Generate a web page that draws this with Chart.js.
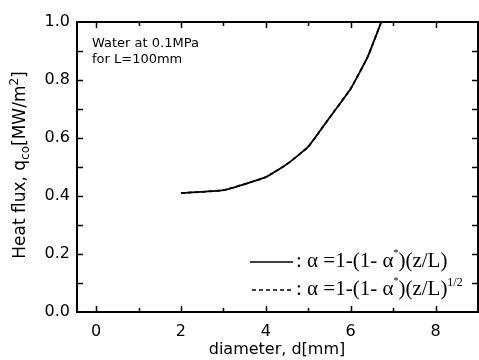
<!DOCTYPE html>
<html>
<head>
<meta charset="utf-8">
<script src="https://cdn.jsdelivr.net/npm/chart.js@4.4.1/dist/chart.umd.min.js"></script>
<style>
  html, body { margin: 0; padding: 0; background: #fff; }
  #wrap { width: 479px; height: 360px; position: relative; }
</style>
</head>
<body>
<div id="wrap"><canvas id="chart"></canvas></div>
<script>
// diameter d [mm] and heat flux q_co [MW/m2]
var diameters = [2, 3, 4, 4.5, 5, 5.5, 6, 6.4, 6.72];
var heatFlux = [0.41, 0.42, 0.465, 0.51, 0.57, 0.67, 0.77, 0.88, 1.0];
// the square-root profile lies on the same curve in the figure
var heatFluxSqrt = [0.41, 0.42, 0.465, 0.51, 0.57, 0.67, 0.77, 0.88, 1.0];
var xTicks = [0, 2, 4, 6, 8];
var yTicks = [0, 0.2, 0.4, 0.6, 0.8, 1.0];
var noteLines = ['Water at 0.1MPa', 'for L=100mm'];

var sans = '"DejaVu Sans", Arial, sans-serif';
var serif = '"Liberation Serif", "Times New Roman", serif';

var framePlugin = {
    id: 'frame',
    afterDraw: function(chart) {
        var ctx = chart.ctx;
        var a = chart.chartArea;
        var xs = chart.scales.x, ys = chart.scales.y;
        ctx.save();
        ctx.strokeStyle = '#000';
        ctx.lineWidth = 2;
        ctx.strokeRect(a.left, a.top, a.right - a.left, a.bottom - a.top);

        // inward ticks
        ctx.lineWidth = 1.5;
        ctx.beginPath();
        for (var v = 0; v <= 9; v++) {
            var px = Math.round(xs.getPixelForValue(v)) + 0.5;
            if (px >= a.right - 1) continue;
            var len = v % 2 === 0 ? 6 : 4;
            ctx.moveTo(px, a.bottom); ctx.lineTo(px, a.bottom - len);
            ctx.moveTo(px, a.top); ctx.lineTo(px, a.top + len);
        }
        for (var k = 1; k < 10; k++) {
            var py = Math.round(ys.getPixelForValue(k / 10)) + 0.5;
            ctx.moveTo(a.left, py); ctx.lineTo(a.left + 6, py);
            ctx.moveTo(a.right, py); ctx.lineTo(a.right - 6, py);
        }
        ctx.stroke();

        // note
        ctx.fillStyle = '#000';
        ctx.font = '13px ' + sans;
        ctx.textBaseline = 'alphabetic';
        ctx.textAlign = 'left';
        ctx.fillText(noteLines[0], 92, 47);
        ctx.fillText(noteLines[1], 92, 63);

        // x title
        ctx.font = '16px ' + sans;
        ctx.textAlign = 'center';
        ctx.fillText('diameter, d[mm]', 277, 354);

        // y title with subscript and superscript
        ctx.save();
        ctx.translate(25, 165);
        ctx.rotate(-Math.PI / 2);
        var parts = [
            ['Heat flux, q', 17, 0],
            ['co', 12, 4],
            ['[MW/m', 17, 0],
            ['2', 12, -7],
            [']', 17, 0]
        ];
        var total = 0;
        parts.forEach(function(p) { ctx.font = p[1] + 'px ' + sans; total += ctx.measureText(p[0]).width; });
        var x0 = -total / 2;
        ctx.textAlign = 'left';
        parts.forEach(function(p) {
            ctx.font = p[1] + 'px ' + sans;
            ctx.fillText(p[0], x0, p[2]);
            x0 += ctx.measureText(p[0]).width;
        });
        ctx.restore();

        // legend
        ctx.lineWidth = 1.3;
        ctx.beginPath();
        ctx.moveTo(250, 262); ctx.lineTo(293, 262);
        ctx.stroke();
        ctx.setLineDash([4, 3]);
        ctx.beginPath();
        ctx.moveTo(252, 290); ctx.lineTo(293, 290);
        ctx.stroke();
        ctx.setLineDash([]);

        function eq(x, y, sup) {
            ctx.textAlign = 'left';
            var segs = [[': ', 21, 0], ['\u03b1 =1-(1- \u03b1', 21, 0], ['*', 10, -11], [')(z/L)', 21, 0]];
            if (sup) segs.push(['1/2', 12, -9]);
            segs.forEach(function(s) {
                ctx.font = s[1] + 'px ' + serif;
                ctx.fillText(s[0], x, y + s[2]);
                x += ctx.measureText(s[0]).width;
            });
        }
        eq(296, 267, false);
        eq(296, 295, true);
        ctx.restore();
    }
};

new Chart(document.getElementById('chart'), {
    type: 'line',
    data: {
        datasets: [{
            label: 'alpha = 1-(1-alpha*)(z/L)',
            data: diameters.map(function(d, i) { return { x: d, y: heatFlux[i] }; }),
            borderColor: '#000',
            borderWidth: 1.8,
            pointRadius: 0,
            tension: 0.12,
            fill: false
        }, {
            label: 'alpha = 1-(1-alpha*)(z/L)^1/2',
            data: diameters.map(function(d, i) { return { x: d, y: heatFluxSqrt[i] }; }),
            borderColor: '#000',
            borderWidth: 1.8,
            borderDash: [4, 3],
            pointRadius: 0,
            tension: 0.12,
            fill: false
        }]
    },
    options: {
        responsive: true,
        maintainAspectRatio: false,
        animation: false,
        layout: { padding: { top: 22, right: 1, left: 0, bottom: 0 } },
        plugins: { legend: { display: false }, tooltip: { enabled: false } },
        scales: {
            x: {
                type: 'linear',
                min: -0.45,
                max: 9,
                afterBuildTicks: function(s) { s.ticks = xTicks.map(function(v) { return { value: v }; }); },
                afterFit: function(s) { s.height = 48; },
                grid: { display: false, drawTicks: false },
                border: { display: false },
                ticks: { color: '#000', font: { family: sans, size: 16 }, padding: 10 }
            },
            y: {
                min: 0,
                max: 1.0,
                afterBuildTicks: function(s) { s.ticks = yTicks.map(function(v) { return { value: v }; }); },
                afterFit: function(s) { s.width = 77; },
                grid: { display: false, drawTicks: false },
                border: { display: false },
                ticks: {
                    color: '#000',
                    font: { family: sans, size: 16 },
                    padding: 7,
                    callback: function(v) { return v.toFixed(1); }
                }
            }
        }
    },
    plugins: [framePlugin]
});
</script>
</body>
</html>
